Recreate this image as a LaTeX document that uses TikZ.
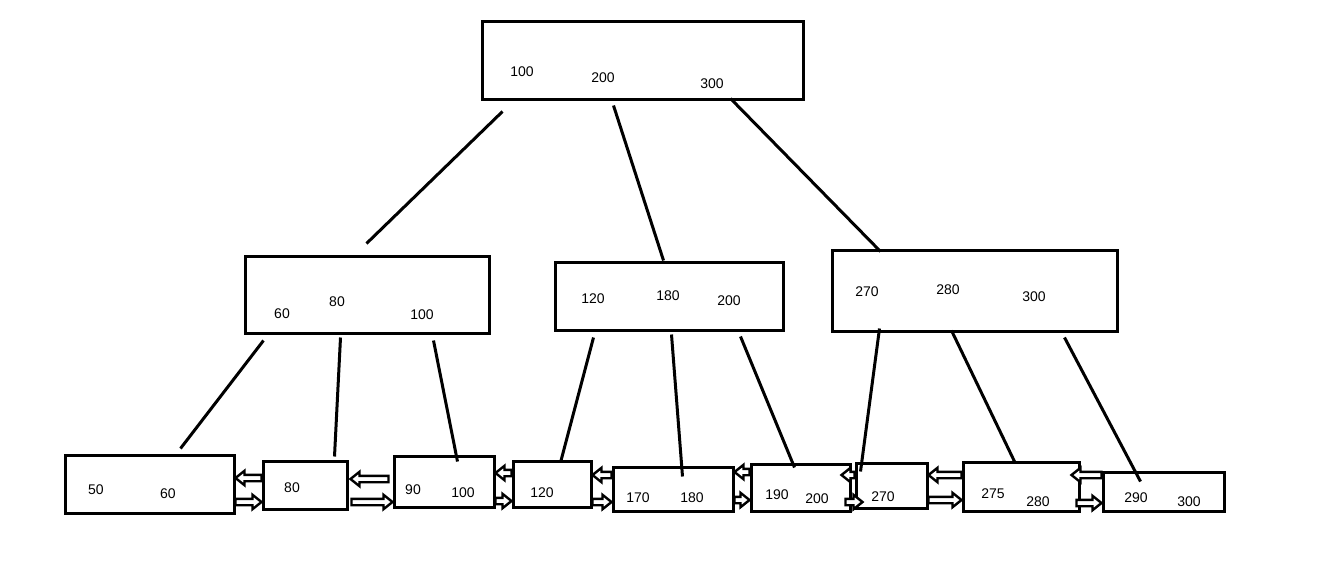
\documentclass[tikz,border=0pt]{standalone}
\usepackage{fontspec}
\setmainfont{Liberation Sans}
\usetikzlibrary{calc}
\begin{document}
\begin{tikzpicture}[x=1pt,y=-1pt,
  box/.style={draw,line width=3pt,inner sep=0pt,fill=white},
  edge/.style={line width=3pt},
  blk/.style={draw,fill=white,line width=2.4pt,line join=miter},
  lbl/.style={inner sep=0pt,font=\fontsize{14}{16}\selectfont}]
\useasboundingbox[fill=white] (0,0) rectangle (1325,576);
% hollow block arrow from #1 (tail) to #2 (tip), horizontal
\newcommand\blkarrow[2]{\draw[blk] let \p1=(#1), \p2=(#2), \n1={sign(\x2-\x1)} in
  (\x1,{\y1+3.2pt}) -- ({\x2-\n1*9pt},{\y1+3.2pt}) -- ({\x2-\n1*9pt},{\y1+7.2pt}) -- (\x2,\y1)
  -- ({\x2-\n1*9pt},{\y1-7.2pt}) -- ({\x2-\n1*9pt},{\y1-3.2pt}) -- (\x1,{\y1-3.2pt}) -- cycle;}
% boxes
\node[box,minimum width=321pt,minimum height=78pt] (top) at (642.5,60) {};
\node[box,minimum width=244pt,minimum height=77pt] (m1) at (367,294.5) {};
\node[box,minimum width=228pt,minimum height=68pt] (m2) at (669,296) {};
\node[box,minimum width=285pt,minimum height=81pt] (m3) at (974.5,290.5) {};
\node[box,minimum width=169pt,minimum height=58pt] (L1) at (149.5,484) {};
\node[box,minimum width=84pt,minimum height=48pt] (L2) at (305,485) {};
\node[box,minimum width=100pt,minimum height=51pt] (L3) at (444,481.5) {};
\node[box,minimum width=78pt,minimum height=46pt] (L4) at (552,484) {};
\node[box,minimum width=120pt,minimum height=44pt] (L5) at (673,489) {};
\node[box,minimum width=99pt,minimum height=47pt] (L6) at (800.5,487.5) {};
\node[box,minimum width=71pt,minimum height=45pt] (L7) at (891.5,485.5) {};
\node[box,minimum width=116pt,minimum height=49pt] (L8) at (1021,486.5) {};
\node[box,minimum width=121pt,minimum height=39pt] (L9) at (1163.5,491.5) {};
% labels
\node[lbl] (t1) at (522,72) {100};
\node[lbl] (t2) at (603,78) {200};
\node[lbl] (t3) at (712,84) {300};
\node[lbl] (a1) at (282,314) {60};
\node[lbl] (a2) at (337,302) {80};
\node[lbl] (a3) at (422,315) {100};
\node[lbl] (b1) at (593,299) {120};
\node[lbl] (b2) at (668,296) {180};
\node[lbl] (b3) at (729,301) {200};
\node[lbl] (c1) at (867,292) {270};
\node[lbl] (c2) at (948,290) {280};
\node[lbl] (c3) at (1034,297) {300};
\node[lbl] (d1) at (96,490) {50};
\node[lbl] (d2) at (168,494) {60};
\node[lbl] (d3) at (292,488) {80};
\node[lbl] (d4) at (413,490) {90};
\node[lbl] (d5) at (463,493) {100};
\node[lbl] (d6) at (542,493) {120};
\node[lbl] (d7) at (638,498) {170};
\node[lbl] (d8) at (692,498) {180};
\node[lbl] (d9) at (777,495) {190};
\node[lbl] (d10) at (817,499) {200};
\node[lbl] (d11) at (883,497) {270};
\node[lbl] (d12) at (993,494) {275};
\node[lbl] (d13) at (1038,502) {280};
\node[lbl] (d14) at (1136,498) {290};
\node[lbl] (d15) at (1189,502) {300};
% tree edges
\draw[edge] ([xshift=22pt,yshift=-11pt]top.south west) -- ([xshift=123pt,yshift=11pt]m1.north west);
\draw[edge] ([xshift=133pt,yshift=-5pt]top.south west) -- ([xshift=110pt,yshift=0pt]m2.north west);
\draw[edge] ([xshift=250pt,yshift=2pt]top.south west) -- ([xshift=50pt,yshift=-3pt]m3.north west);
\draw[edge] ([xshift=20pt,yshift=-6pt]m1.south west) -- ([xshift=117pt,yshift=5pt]L1.north west);
\draw[edge] ([xshift=97pt,yshift=-3pt]m1.south west) -- ([xshift=73pt,yshift=3pt]L2.north west);
\draw[edge] ([xshift=190pt,yshift=-6pt]m1.south west) -- ([xshift=65pt,yshift=-7pt]L3.north west);
\draw[edge] ([xshift=40pt,yshift=-6pt]m2.south west) -- ([xshift=49pt,yshift=-3pt]L4.north west);
\draw[edge] ([xshift=118pt,yshift=-3pt]m2.south west) -- ([xshift=71pt,yshift=-11pt]L5.north west);
\draw[edge] ([xshift=187pt,yshift=-5pt]m2.south west) -- ([xshift=45pt,yshift=-5pt]L6.north west);
\draw[edge] ([xshift=49pt,yshift=4pt]m3.south west) -- ([xshift=6pt,yshift=-10pt]L7.north west);
\draw[edge] ([xshift=121pt,yshift=2pt]m3.south west) -- ([xshift=53pt,yshift=-1pt]L8.north west);
\draw[edge] ([xshift=234pt,yshift=-5pt]m3.south west) -- ([xshift=39pt,yshift=-11pt]L9.north west);
% leaf links
\newcommand\larr[3]{\blkarrow{[yshift=#3]#1.west}{[yshift=#3]#1.west -| #2.east}}
\newcommand\rarr[3]{\blkarrow{[yshift=#3]#1.west -| #2.east}{[yshift=#3]#1.west}}
\larr{L2}{L1}{7pt}   \rarr{L2}{L1}{-17pt}
\blkarrow{[yshift=2.5pt,xshift=-4pt]L3.west}{[yshift=2.5pt,xshift=2pt]L3.west -| L2.east}
\blkarrow{[yshift=-20.5pt,xshift=3pt]L3.west -| L2.east}{[yshift=-20.5pt]L3.west}
\larr{L4}{L3}{11pt}  \rarr{L4}{L3}{-17pt}
\larr{L5}{L4}{14pt}  \rarr{L5}{L4}{-13pt}
\larr{L6}{L5}{15.5pt}\rarr{L6}{L5}{-12.5pt}
\blkarrow{[yshift=10.5pt]L7.west}{[yshift=10.5pt,xshift=-10pt]L7.west -| L6.east}
\blkarrow{[yshift=-16.5pt,xshift=-6pt]L7.west -| L6.east}{[yshift=-16.5pt,xshift=8pt]L7.west}
\larr{L8}{L7}{11.5pt}\rarr{L8}{L7}{-13.5pt}
\blkarrow{[yshift=16.5pt]L9.west}{[yshift=16.5pt,xshift=-9pt]L9.west -| L8.east}
\blkarrow{[yshift=-11.5pt,xshift=-4pt]L9.west -| L8.east}{[yshift=-11.5pt]L9.west}
\end{tikzpicture}
\end{document}
